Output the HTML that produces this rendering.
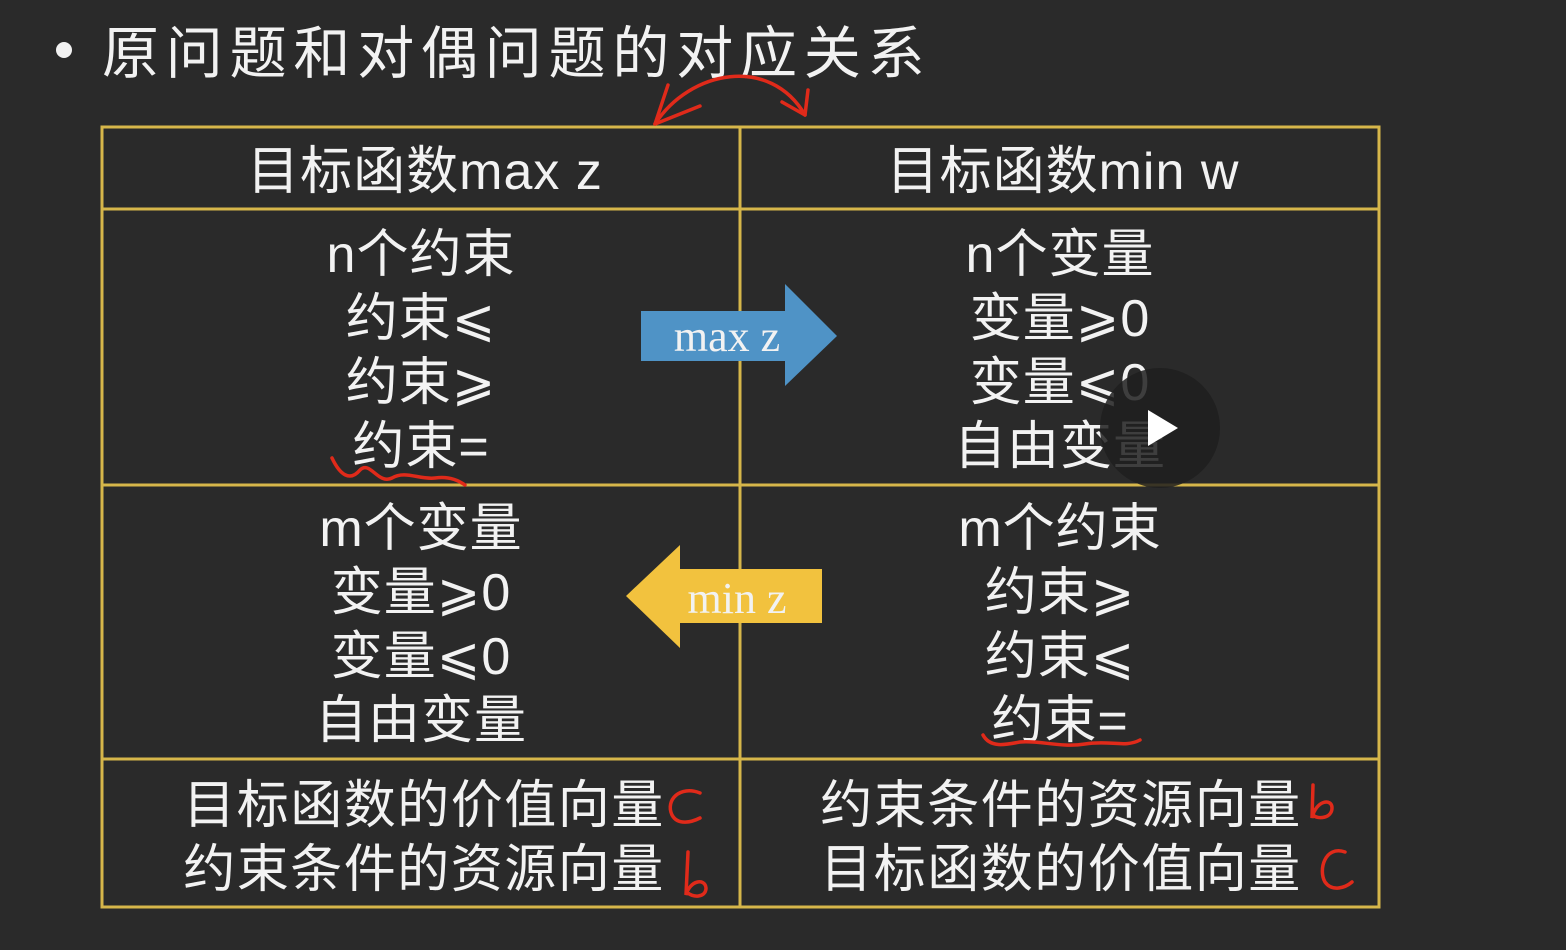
<!DOCTYPE html>
<html><head><meta charset="utf-8"><style>
html,body{margin:0;padding:0;background:#2a2a2a;}
svg{display:block}
text{font-family:"Liberation Sans","DejaVu Sans","Noto Sans CJK SC",sans-serif;fill:#f2f2f2;}
</style></head><body>
<svg width="1566" height="950" viewBox="0 0 1566 950" xmlns="http://www.w3.org/2000/svg">
<rect width="1566" height="950" fill="#2a2a2a"/>
<circle cx="64" cy="50" r="8" fill="#f2f2f2"/>
<text x="102" y="73" font-size="57" letter-spacing="6.8">原问题和对偶问题的对应关系</text>
<g stroke="#d6b64a" stroke-width="3" fill="none">
<rect x="102" y="127" width="1277" height="780"/>
<line x1="740" y1="127" x2="740" y2="907"/>
<line x1="102" y1="209" x2="1379" y2="209"/>
<line x1="102" y1="485" x2="1379" y2="485"/>
<line x1="102" y1="759" x2="1379" y2="759"/>
</g>
<g font-size="52" text-anchor="middle" letter-spacing="1">
<text x="425" y="189">目标函数max z</text>
<text x="1063" y="189">目标函数min w</text>
<text x="421" y="272">n个约束</text>
<text x="421" y="336">约束⩽</text>
<text x="421" y="400">约束⩾</text>
<text x="421" y="464">约束=</text>
<text x="1060" y="272">n个变量</text>
<text x="1060" y="336">变量⩾0</text>
<text x="1060" y="400">变量⩽0</text>
<text x="1060" y="464">自由变量</text>
<text x="421" y="546">m个变量</text>
<text x="421" y="610">变量⩾0</text>
<text x="421" y="674">变量⩽0</text>
<text x="421" y="738">自由变量</text>
<text x="1060" y="546">m个约束</text>
<text x="1060" y="610">约束⩾</text>
<text x="1060" y="674">约束⩽</text>
<text x="1060" y="738">约束=</text>
</g>
<g font-size="52" text-anchor="middle" letter-spacing="1.5">
<text x="424" y="823">目标函数的价值向量</text>
<text x="424" y="887">约束条件的资源向量</text>
<text x="1061" y="823">约束条件的资源向量</text>
<text x="1061" y="887">目标函数的价值向量</text>
</g>
<polygon points="641,311 785,311 785,284 837,336 785,386 785,361 641,361" fill="#4f93c6"/>
<text x="727" y="351" font-size="44" text-anchor="middle" style="font-family:'Liberation Serif',serif">max z</text>
<polygon points="822,569 680,569 680,545 626,596 680,648 680,623 822,623" fill="#f2c23e"/>
<text x="737" y="613" font-size="44" text-anchor="middle" style="font-family:'Liberation Serif',serif">min z</text>
<circle cx="1160" cy="428" r="60" fill="#1e1e1e" opacity="0.85"/>
<polygon points="1148,410 1148,446 1178,428" fill="#fff"/>
<g stroke="#e02a1a" stroke-width="3.5" fill="none" stroke-linecap="round">
<path d="M655,124 C690,70 770,55 805,115"/>
<path d="M655,124 L668,85 M655,124 L700,106"/>
<path d="M805,115 L808,90 M805,115 L782,102"/>
<path d="M332,458 C340,475 350,482 360,470 C370,460 378,485 392,478 C405,470 420,480 435,478 C448,476 458,480 465,485"/>
<path d="M983,735 C990,748 1005,745 1020,742 C1040,740 1060,748 1085,744 C1110,740 1125,748 1140,740"/>
<path d="M700,793 C680,785 665,800 672,815 C678,826 692,822 700,818"/>
<path d="M688,852 L686,895 C690,880 705,878 706,888 C706,898 692,898 687,892"/>
<path d="M1313,785 L1312,818 C1316,800 1332,798 1332,808 C1332,818 1318,820 1313,815"/>
<path d="M1345,852 C1325,845 1318,870 1325,882 C1332,892 1345,888 1352,882"/>
</g>
</svg>
</body></html>
